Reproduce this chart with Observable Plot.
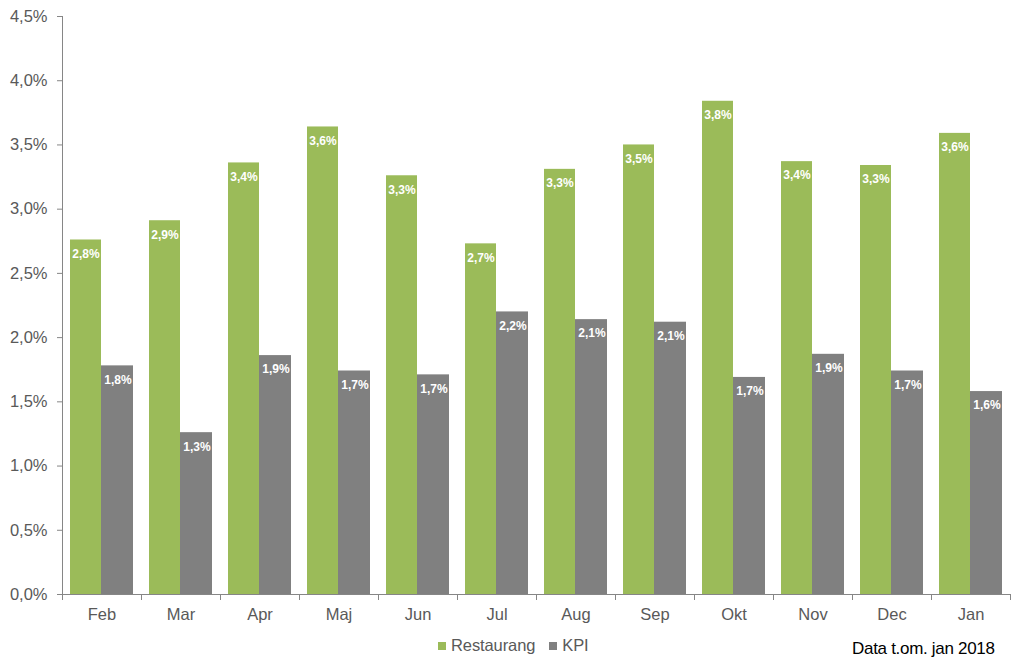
<!DOCTYPE html>
<html>
<head>
<meta charset="utf-8">
<script src="https://cdn.jsdelivr.net/npm/d3@7"></script>
<script src="https://cdn.jsdelivr.net/npm/@observablehq/plot@0.6"></script>
<style>
  body { margin: 0; background: #fff; font-family: "Liberation Sans", Arial, sans-serif; }
  #wrap { width: 1024px; height: 668px; position: relative; }
  #legend { position: absolute; left: 438px; top: 635px; height: 21px; line-height: 21px; font-size: 16.5px; letter-spacing: -0.1px; color: #595959; display: flex; align-items: center; }
  .sw { display: inline-block; width: 8px; height: 8px; margin-right: 5px; }
  #caption { position: absolute; left: 852px; top: 638px; height: 22px; line-height: 22px; font-size: 17px; letter-spacing: -0.3px; color: #000; }
</style>
</head>
<body>
<div id="wrap">
  <div id="chart"></div>
  <div id="legend"></div>
  <div id="caption">Data t.om. jan 2018</div>
</div>
<script>
const months = ["Feb", "Mar", "Apr", "Maj", "Jun", "Jul", "Aug", "Sep", "Okt", "Nov", "Dec", "Jan"];
const restaurang = [2.76, 2.91, 3.36, 3.64, 3.26, 2.73, 3.31, 3.50, 3.84, 3.37, 3.34, 3.59];
const kpi = [1.78, 1.26, 1.86, 1.74, 1.71, 2.20, 2.14, 2.12, 1.69, 1.87, 1.74, 1.58];
const yTicks = [0, 0.5, 1, 1.5, 2, 2.5, 3, 3.5, 4, 4.5];
const seriesNames = ["Restaurang", "KPI"];
const colors = ["#9bbb59", "#808080"];

const fmt = v => v.toFixed(1).replace(".", ",") + "%";
const rData = months.map((m, i) => ({month: m, value: restaurang[i]}));
const kData = months.map((m, i) => ({month: m, value: kpi[i]}));

const chart = Plot.plot({
  width: 1024,
  height: 625,
  marginLeft: 62,
  marginRight: 14,
  marginTop: 16,
  marginBottom: 31,
  style: {fontFamily: "Liberation Sans, Arial, sans-serif", background: "#fff"},
  x: {domain: months, padding: 0, label: null},
  y: {domain: [0, 4.5], label: null},
  marks: [
    Plot.barY(rData, {x: "month", y: "value", fill: colors[0], insetLeft: 8, insetRight: 40}),
    Plot.barY(kData, {x: "month", y: "value", fill: colors[1], insetLeft: 39, insetRight: 8}),
    Plot.text(rData, {x: "month", y: "value", text: d => fmt(d.value), dx: -16, dy: 14, fill: "#fff", fontWeight: "bold", fontSize: 12}),
    Plot.text(kData, {x: "month", y: "value", text: d => fmt(d.value), dx: 16, dy: 14, fill: "#fff", fontWeight: "bold", fontSize: 12}),
    Plot.axisY({ticks: yTicks, tickFormat: fmt, tickSize: 5, tickPadding: 10, fontSize: 16.5, color: "#595959", stroke: "#868686", label: null}),
    Plot.axisX({ticks: months, tickFormat: () => "", tickSize: 6, dx: -39.5, stroke: "#868686", label: null}),
    Plot.axisX({ticks: ["Jan"], tickFormat: () => "", tickSize: 6, dx: 39.5, stroke: "#868686", label: null}),
    Plot.axisX({tickSize: 0, tickPadding: 14, fontSize: 16.5, color: "#595959", label: null}),
    Plot.frame({anchor: "left", stroke: "#868686"}),
    Plot.ruleY([0], {stroke: "#868686"})
  ]
});
document.getElementById("chart").appendChild(chart);

const legend = document.getElementById("legend");
seriesNames.forEach((name, i) => {
  const item = document.createElement("span");
  item.style.marginRight = "14px";
  item.style.display = "inline-flex";
  item.style.alignItems = "center";
  item.innerHTML = `<span class="sw" style="background:${colors[i]}"></span>${name}`;
  legend.appendChild(item);
});
</script>
</body>
</html>
